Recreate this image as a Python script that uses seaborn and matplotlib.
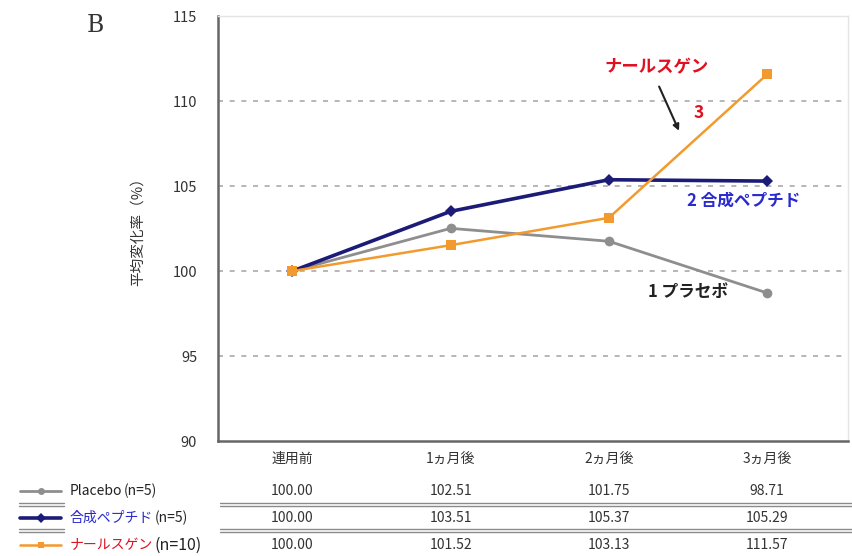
import matplotlib
matplotlib.use("Agg")
import matplotlib.pyplot as plt
import matplotlib.transforms as mtransforms
import pandas as pd
import seaborn as sns

# データ
periods = ["連用前", "1ヵ月後", "2ヵ月後", "3ヵ月後"]
placebo = [100.00, 102.51, 101.75, 98.71]
peptide = [100.00, 103.51, 105.37, 105.29]
narsgen = [100.00, 101.52, 103.13, 111.57]

series_names = ["Placebo", "合成ペプチド", "ナールスゲン"]
series_n = ["(n=5)", "(n=5)", "(n=10)"]
series_values = [placebo, peptide, narsgen]
series_colors = ["#8e8e8e", "#1c1c78", "#f29a2e"]
series_markers = ["o", "D", "s"]
name_colors = ["#222222", "#2a2ad0", "#e01020"]

sns.set_theme(style="white")
plt.rcParams["font.family"] = ["Noto Sans CJK JP", "DejaVu Sans"]

fig = plt.figure(figsize=(8.53, 5.56), dpi=100)
ax = fig.add_axes([0.2556, 0.2068, 0.7384, 0.7644])

x_pos = list(range(len(periods)))
for vals, col, mk, lw, ms in zip(series_values, series_colors, series_markers,
                                 [2.0, 2.6, 1.8], [7, 6, 7]):
    df = pd.DataFrame({"x": x_pos, "y": vals})
    sns.lineplot(data=df, x="x", y="y", ax=ax, color=col, marker=mk,
                 markersize=ms, linewidth=lw, markeredgewidth=0, zorder=3)

ax.set_xlim(-0.47, 3.51)
ax.set_ylim(90, 115)
ax.set_yticks([90, 95, 100, 105, 110, 115])
ax.set_xticks(x_pos)
ax.set_xticklabels(periods, fontsize=10, color="#333333")
ax.tick_params(axis="x", length=0, pad=8)
ax.tick_params(axis="y", length=0, pad=15, labelsize=10.5, labelcolor="#333333")
ax.set_xlabel("")
ax.set_ylabel("平均変化率（%）", fontsize=10.5, labelpad=20, color="#333333")

for yv in [95, 100, 105, 110]:
    ax.axhline(yv, color="#aaaaaa", linestyle=(0, (3, 4)), linewidth=1.2, zorder=1)

for side in ["left", "bottom"]:
    ax.spines[side].set_color("#666666")
    ax.spines[side].set_linewidth(1.8)
for side in ["top", "right"]:
    ax.spines[side].set_color("#e4e4e4")
    ax.spines[side].set_linewidth(1.0)

# 注釈
ax.text(2.3, 112.0, "ナールスゲン", color="#e01020", fontsize=12.5, fontweight="bold",
        ha="center", va="center")
ax.text(2.57, 109.3, "3", color="#e01020", fontsize=12.5, fontweight="bold",
        ha="center", va="center")
ax.annotate("", xy=(2.45, 108.1), xytext=(2.31, 111.0),
            arrowprops=dict(arrowstyle="-|>", color="#222222", lw=1.5,
                            mutation_scale=9))
ax.text(2.85, 104.15, "2 合成ペプチド", color="#2a2ad0", fontsize=12,
        fontweight="bold", ha="center", va="center")
ax.text(2.5, 98.75, "1 プラセボ", color="#222222", fontsize=12,
        fontweight="bold", ha="center", va="center")

fig.text(0.112, 0.955, "B", fontsize=17, family="DejaVu Serif", ha="center",
         va="center", color="#333333")

# 表
trans = mtransforms.blended_transform_factory(ax.transData, fig.transFigure)
row_y = [0.117, 0.068, 0.020]
for vals, ry in zip(series_values, row_y):
    for xi, v in zip(x_pos, vals):
        ax.text(xi, ry, f"{v:.2f}", transform=trans, ha="center", va="center",
                fontsize=10, color="#333333", clip_on=False)

for ry, name, nn, col, mk, ncol, lw in zip(row_y, series_names, series_n,
                                           series_colors, series_markers,
                                           name_colors, [2.0, 2.6, 1.8]):
    fig.add_artist(plt.Line2D([0.024, 0.072], [ry, ry], color=col, lw=lw,
                              transform=fig.transFigure))
    fig.add_artist(plt.Line2D([0.048], [ry], color=col, marker=mk, markersize=5,
                              markeredgewidth=0, transform=fig.transFigure))
    t = fig.text(0.082, ry, name, color=ncol, fontsize=10, va="center", ha="left")
    fig.canvas.draw()
    bb = t.get_window_extent()
    fig.text(bb.x1 / fig.bbox.width + 0.002, ry, nn, color="#222222",
             fontsize=10 if nn != "(n=10)" else 11.5, va="center", ha="left")

for sy in [0.0917, 0.045]:
    for x0, x1 in [(0.022, 0.075), (0.258, 1.0)]:
        fig.add_artist(plt.Line2D([x0, x1], [sy + 0.003, sy + 0.003],
                                  color="#8a8a8a", lw=1.0, transform=fig.transFigure))
        fig.add_artist(plt.Line2D([x0, x1], [sy - 0.002, sy - 0.002],
                                  color="#8a8a8a", lw=1.0, transform=fig.transFigure))

fig.savefig("out.png", dpi=100, facecolor="white")
